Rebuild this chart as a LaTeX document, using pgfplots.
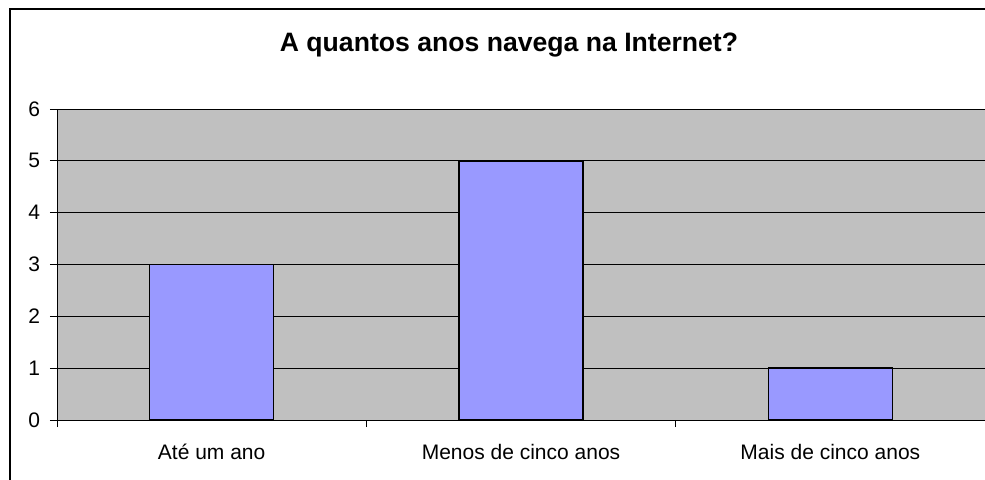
\documentclass[border=0pt]{standalone}
\usepackage{pgfplots}
\pgfplotsset{compat=1.18}
\usepackage{fontspec}
\setmainfont{Liberation Sans}
\definecolor{plotgrey}{HTML}{C0C0C0}
\definecolor{barblue}{HTML}{9999FF}
\begin{document}
\begin{tikzpicture}[x=1pt,y=1pt]
\path[use as bounding box] (0,0) rectangle (492.5,239.5);
\draw[line width=1pt] (5,-20) -- (5,235) -- (520,235);
\node[font=\bfseries\fontsize{13.3}{16}\selectfont] at (254.5,217) {A quantos anos navega na Internet?};
\begin{axis}[at={(28.5pt,29.5pt)}, anchor=south west, scale only axis,
  width=464pt, height=155.5pt,
  xmin=0.5, xmax=3.5, ymin=0, ymax=6, ytick={0,1,2,3,4,5,6},
  axis background/.style={fill=plotgrey},
  ymajorgrids, grid style={black, line width=0.5pt},
  axis line style={black, line width=0.5pt},
  tick align=outside, major tick length=3.5pt, tick style={black, line width=0.5pt},
  ytick pos=left, xtick pos=bottom,
  xtick={0.5,1.5,2.5,3.5}, xticklabels={},
  extra x ticks={1,2,3},
  extra x tick labels={Até um ano, Menos de cinco anos, Mais de cinco anos},
  extra x tick style={major tick length=0pt, grid=none, tick style={draw=none},
    xticklabel style={yshift=-8.5pt}},
  ticklabel style={font=\fontsize{10.5}{12}\selectfont},
  yticklabel style={xshift=-1.5pt},
  /pgf/number format/assume math mode=true,
]
\addplot[ybar, bar width=62pt, bar shift=0pt, fill=barblue, draw=black, line width=0.75pt]
  coordinates {(1,3) (2,5) (3,1)};
\end{axis}
\end{tikzpicture}
\end{document}
